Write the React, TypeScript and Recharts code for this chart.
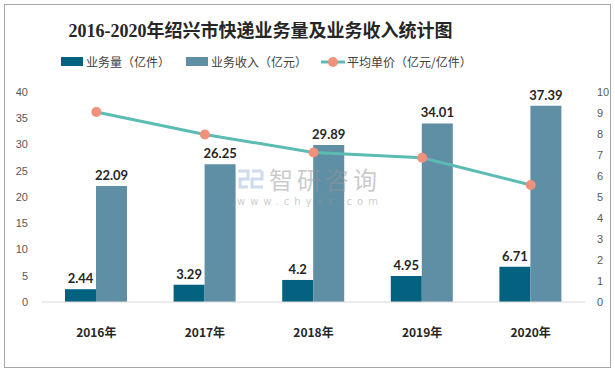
import React from "react";
import {
  ComposedChart,
  Bar,
  Line,
  XAxis,
  YAxis,
  LabelList,
} from "recharts";

const years = ["2016年", "2017年", "2018年", "2019年", "2020年"];
const volume = [2.44, 3.29, 4.2, 4.95, 6.71];
const revenue = [22.09, 26.25, 29.89, 34.01, 37.39];
const unitPrice = [9.05, 7.98, 7.12, 6.87, 5.57];
const leftTicks = [0, 5, 10, 15, 20, 25, 30, 35, 40];
const rightTicks = [0, 1, 2, 3, 4, 5, 6, 7, 8, 9, 10];

const data = years.map((year, i) => ({
  year,
  volume: volume[i],
  revenue: revenue[i],
  price: unitPrice[i],
}));

const DARK = "#03627f";
const LIGHT = "#5f8fa4";
const LINE = "#5bbcb3";
const DOT = "#f0927b";

const tickStyle = { fill: "#595959", fontSize: 11, fontFamily: "Liberation Sans, sans-serif" };
const labelStyle = { fill: "#262626", fontSize: 13, fontWeight: 700, fontFamily: "Lato, sans-serif" };

const LegendItem = ({
  kind,
  color,
  text,
  left,
}: {
  kind: "bar" | "line";
  color: string;
  text: string;
  left: number;
}) => (
  <div
    style={{
      position: "absolute",
      left,
      top: 53,
      display: "flex",
      alignItems: "center",
      fontFamily: "Noto Sans CJK SC, sans-serif",
      fontSize: 12,
      color: "#404040",
      whiteSpace: "nowrap",
    }}
  >
    {kind === "bar" ? (
      <div style={{ width: 22, height: 9, background: color, marginRight: 3 }} />
    ) : (
      <svg width={24} height={12} style={{ marginRight: 2 }}>
        <line x1={0} y1={6} x2={24} y2={6} stroke={LINE} strokeWidth={3} />
        <circle cx={12} cy={6} r={5} fill={DOT} />
      </svg>
    )}
    <span>{text}</span>
  </div>
);

export default function App() {
  return (
    <div
      style={{
        position: "absolute",
        left: 0,
        top: 0,
        width: 615,
        height: 373,
        background: "#fff",
      }}
    >
      <div
        style={{
          position: "absolute",
          left: 4,
          top: 4,
          width: 605,
          height: 362,
          border: "1px solid #a6a6a6",
        }}
      />
      <div
        style={{
          position: "absolute",
          left: 0,
          top: 16,
          width: 521,
          textAlign: "center",
          fontFamily: "Liberation Serif, Noto Sans CJK SC, serif",
          fontWeight: 700,
          fontSize: 18,
          color: "#262626",
        }}
      >
        2016-2020年绍兴市快递业务量及业务收入统计图
      </div>
      <LegendItem kind="bar" color={DARK} text="业务量（亿件）" left={61} />
      <LegendItem kind="bar" color={LIGHT} text="业务收入（亿元）" left={186} />
      <LegendItem kind="line" color={LINE} text="平均单价（亿元/亿件）" left={321} />
      <ComposedChart
        width={615}
        height={373}
        data={data}
        margin={{ top: 92, right: 0, bottom: 0, left: 0 }}
        barGap={0}
        style={{ position: "absolute", left: 0, top: 0 }}
      >
        <XAxis
          dataKey="year"
          axisLine={{ stroke: "#d9d9d9" }}
          tickLine={false}
          tickMargin={20}
          tick={{ fill: "#262626", fontSize: 12, fontWeight: 700, fontFamily: "Noto Sans CJK SC, sans-serif" }}
          height={71}
        />
        <YAxis
          yAxisId="left"
          domain={[0, 40]}
          ticks={leftTicks}
          axisLine={false}
          tickLine={false}
          tickMargin={8}
          tick={tickStyle}
          width={42}
          interval={0}
        />
        <YAxis
          yAxisId="right"
          orientation="right"
          domain={[0, 10]}
          ticks={rightTicks}
          axisLine={false}
          tickLine={false}
          tickMargin={6}
          tick={{ ...tickStyle, textAnchor: "start" }}
          width={30}
          interval={0}
        />
        <Bar yAxisId="left" dataKey="volume" fill={DARK} barSize={31} isAnimationActive={false}>
          <LabelList dataKey="volume" position="top" offset={6} style={labelStyle} />
        </Bar>
        <Bar yAxisId="left" dataKey="revenue" fill={LIGHT} barSize={31} isAnimationActive={false}>
          <LabelList dataKey="revenue" position="top" offset={6} style={labelStyle} />
        </Bar>
        <Line
          yAxisId="right"
          dataKey="price"
          stroke={LINE}
          strokeWidth={3}
          dot={{ r: 5, fill: DOT, stroke: "none" }}
          isAnimationActive={false}
        />
      </ComposedChart>
      {/* watermark sits on top of the bars */}
      <svg
        width={30}
        height={20}
        style={{ position: "absolute", left: 236, top: 169, opacity: 0.5 }}
      >
        <path d="M2 2 H12 V10 H4 V18 H12" fill="none" stroke="#9fb8dc" strokeWidth={3} />
        <path d="M16 2 H26 M26 2 V10 H16 V18 H27" fill="none" stroke="#9fb8dc" strokeWidth={3} />
      </svg>
      <div
        style={{
          position: "absolute",
          left: 269,
          top: 166,
          color: "rgba(150,150,150,0.5)",
          fontFamily: "Noto Sans CJK SC, sans-serif",
          fontSize: 24,
          letterSpacing: 4,
          lineHeight: "26px",
        }}
      >
        智研咨询
      </div>
      <div
        style={{
          position: "absolute",
          left: 237,
          top: 196,
          color: "rgba(150,150,150,0.5)",
          fontFamily: "DejaVu Sans, sans-serif",
          fontSize: 10,
          letterSpacing: 5,
          lineHeight: "12px",
        }}
      >
        www.chyxx.com
      </div>
    </div>
  );
}
